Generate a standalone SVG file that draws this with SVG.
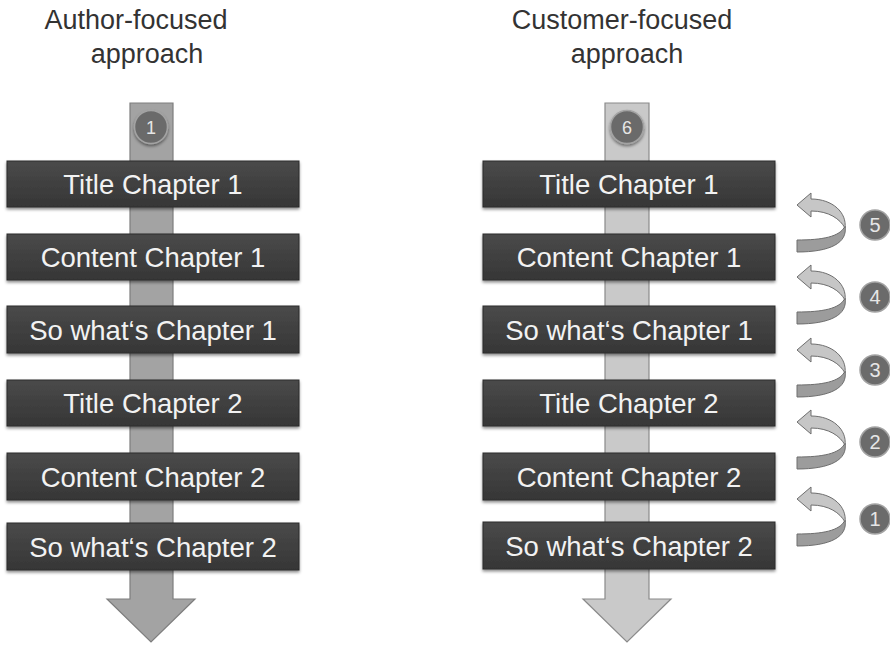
<svg xmlns="http://www.w3.org/2000/svg" width="890" height="645" viewBox="0 0 890 645">
<defs>
<linearGradient id="boxg" x1="0" y1="0" x2="0" y2="1">
<stop offset="0" stop-color="#4a4a4a"/>
<stop offset="1" stop-color="#363636"/>
</linearGradient>
<filter id="sh" x="-10%" y="-20%" width="120%" height="150%">
<feDropShadow dx="0" dy="2" stdDeviation="1.5" flood-color="#000" flood-opacity="0.45"/>
</filter>
<g id="uturn">
<path d="M845,1 C840,12 822,15 797,15 L797,27 C830,27 848,18 845,1 Z" fill="#9c9c9c" stroke="#6e6e6e" stroke-width="1"/>
<path d="M797,-20 L811,-32 L811,-26 C833,-26 847,-12 845,3 C840,-6 829,-14 811,-14 L811,-8 Z" fill="#c6c6c6" stroke="#6e6e6e" stroke-width="1"/>
</g>
</defs>
<style>
.head{font-family:"Liberation Sans",Arial,sans-serif;font-size:27px;fill:#333;text-anchor:middle}
.box rect{fill:url(#boxg);stroke:#2a2a2a;stroke-width:1;filter:url(#sh)}
.box text{font-family:"Liberation Sans",Arial,sans-serif;font-size:27.5px;fill:#f2f2f2;text-anchor:middle}
.num circle{fill:#6b6b6b;stroke:#a3a3a3;stroke-width:1.5}
.num text{font-family:"Liberation Sans",Arial,sans-serif;font-size:18px;fill:#e6e6e6;text-anchor:middle}
.side text{font-size:20px}
</style>
<rect width="890" height="645" fill="#fff"/>

<text class="head" x="136" y="29">Author-focused</text>
<text class="head" x="147" y="63">approach</text>
<text class="head" x="622" y="29">Customer-focused</text>
<text class="head" x="627" y="63">approach</text>

<g id="connectors">
<path id="arrow-left" d="M130,103 L173,103 L173,599 L195,599 L151,642 L107,599 L130,599 Z" fill="#a3a3a3" stroke="#7e7e7e" stroke-width="1.2"/>
<path id="arrow-right" d="M605,103 L649,103 L649,599 L671,599 L627,642 L583,599 L605,599 Z" fill="#c9c9c9" stroke="#8a8a8a" stroke-width="1.2"/>
<use id="turn5" href="#uturn" transform="translate(0,225)"/>
<use id="turn4" href="#uturn" transform="translate(0,297)"/>
<use id="turn3" href="#uturn" transform="translate(0,370)"/>
<use id="turn2" href="#uturn" transform="translate(0,442)"/>
<use id="turn1" href="#uturn" transform="translate(0,519)"/>
</g>

<g id="n-top1" class="num"><circle cx="151" cy="127" r="16.5" filter="url(#sh)"/><text x="151" y="133.5">1</text></g>
<g id="n-top6" class="num"><circle cx="627" cy="127" r="16.5" filter="url(#sh)"/><text x="627" y="133.5">6</text></g>

<g id="L1" class="box"><rect x="7" y="161" width="292" height="46"/><text x="153" y="194">Title Chapter 1</text></g>
<g id="L2" class="box"><rect x="7" y="234" width="292" height="46"/><text x="153" y="267">Content Chapter 1</text></g>
<g id="L3" class="box"><rect x="7" y="306" width="292" height="47"/><text x="153" y="340">So what‘s Chapter 1</text></g>
<g id="L4" class="box"><rect x="7" y="380" width="292" height="46"/><text x="153" y="413">Title Chapter 2</text></g>
<g id="L5" class="box"><rect x="7" y="453" width="292" height="47"/><text x="153" y="487">Content Chapter 2</text></g>
<g id="L6" class="box"><rect x="7" y="523" width="292" height="47"/><text x="153" y="557">So what‘s Chapter 2</text></g>

<g id="R1" class="box"><rect x="483" y="161" width="292" height="46"/><text x="629" y="194">Title Chapter 1</text></g>
<g id="R2" class="box"><rect x="483" y="234" width="292" height="46"/><text x="629" y="267">Content Chapter 1</text></g>
<g id="R3" class="box"><rect x="483" y="306" width="292" height="47"/><text x="629" y="340">So what‘s Chapter 1</text></g>
<g id="R4" class="box"><rect x="483" y="380" width="292" height="46"/><text x="629" y="413">Title Chapter 2</text></g>
<g id="R5" class="box"><rect x="483" y="453" width="292" height="47"/><text x="629" y="487">Content Chapter 2</text></g>
<g id="R6" class="box"><rect x="483" y="522" width="292" height="47"/><text x="629" y="556">So what‘s Chapter 2</text></g>

<g id="n5" class="num side"><circle cx="875" cy="225" r="15"/><text x="875" y="232">5</text></g>
<g id="n4" class="num side"><circle cx="875" cy="297" r="15"/><text x="875" y="304">4</text></g>
<g id="n3" class="num side"><circle cx="875" cy="370" r="15"/><text x="875" y="377">3</text></g>
<g id="n2" class="num side"><circle cx="875" cy="442" r="15"/><text x="875" y="449">2</text></g>
<g id="n1" class="num side"><circle cx="875" cy="519" r="15"/><text x="875" y="526">1</text></g>
</svg>
